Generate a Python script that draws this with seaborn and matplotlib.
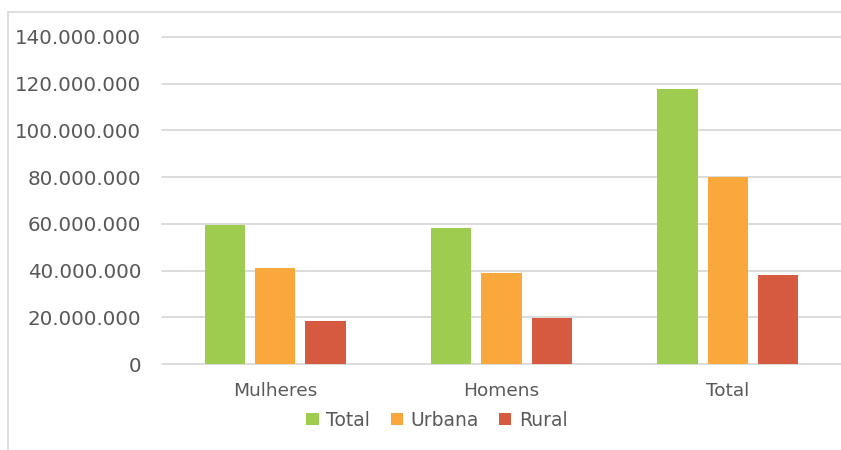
import matplotlib
matplotlib.use("Agg")
import matplotlib.pyplot as plt
from matplotlib.ticker import FuncFormatter, MultipleLocator
from matplotlib.lines import Line2D
import seaborn as sns
import pandas as pd

categories = ["Mulheres", "Homens", "Total"]
series_names = ["Total", "Urbana", "Rural"]
total_vals = [59500000, 58300000, 117900000]
urbana_vals = [41000000, 39000000, 80000000]
rural_vals = [18300000, 19600000, 38000000]
colors = ["#9DCC4E", "#FAA73B", "#D55A40"]

rows = []
for name, vals in zip(series_names, [total_vals, urbana_vals, rural_vals]):
    for c, v in zip(categories, vals):
        rows.append({"categoria": c, "serie": name, "valor": v})
df = pd.DataFrame(rows)

sns.set_theme(style="white")
plt.rcParams["font.family"] = ["DejaVu Sans"]

W, H = 841, 450
fig = plt.figure(figsize=(W / 100, H / 100), dpi=100)
ax = fig.add_axes([162 / W, 1 - 364 / H, (W - 162) / W, (364 - 37) / H])

sns.barplot(data=df, x="categoria", y="valor", hue="serie", order=categories,
            hue_order=series_names, palette=colors, width=0.666, gap=0.2,
            linewidth=0, saturation=1, ax=ax, legend=True, zorder=3)

ax.set_ylim(0, 140000000)
ax.set_xlim(-0.5, 2.5)
ax.yaxis.set_major_locator(MultipleLocator(20000000))
ax.yaxis.set_major_formatter(FuncFormatter(lambda v, p: f"{int(round(v)):,}".replace(",", ".")))
ax.grid(axis="y", color="#D9D9D9", linewidth=1.3, zorder=0)
for gl in ax.get_ygridlines():
    gl.set_clip_on(False)
ax.set_axisbelow(True)
for s in ax.spines.values():
    s.set_visible(False)
ax.set_xlabel("")
ax.set_ylabel("")
ax.tick_params(axis="y", length=0, pad=15, labelsize=14.3, labelcolor="#595959")
ax.tick_params(axis="x", length=0, pad=13, labelsize=13.3, labelcolor="#595959")

handles, labels = ax.get_legend_handles_labels()
ax.get_legend().remove()
fig.legend(handles, labels, loc="center", bbox_to_anchor=(437 / W, 1 - 420 / H),
           ncol=3, frameon=False, fontsize=13.5, labelcolor="#595959",
           handlelength=0.65, handleheight=0.65, handletextpad=0.4, columnspacing=1.1)

# chart border (light gray)
fig.add_artist(Line2D([8 / W, 8 / W], [0, 1 - 12 / H], color="#D9D9D9", linewidth=1.2, transform=fig.transFigure))
fig.add_artist(Line2D([8 / W, 1], [1 - 12 / H, 1 - 12 / H], color="#D9D9D9", linewidth=1.2, transform=fig.transFigure))

fig.savefig("out.png", dpi=100, facecolor="white")
